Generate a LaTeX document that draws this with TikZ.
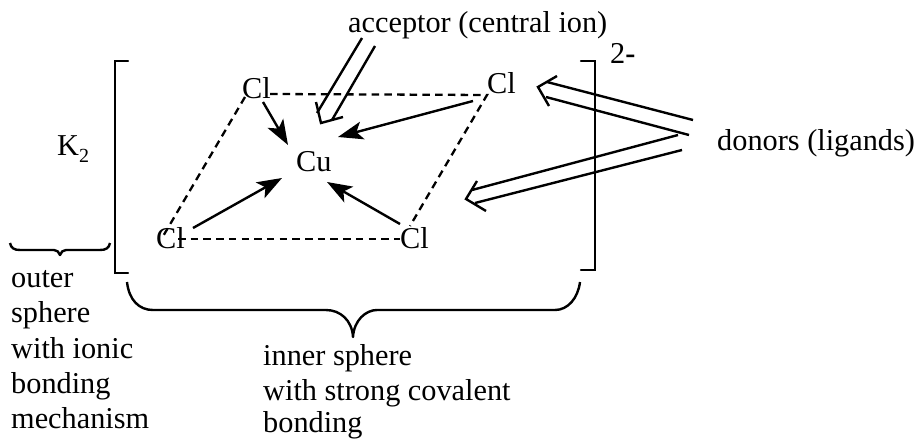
\documentclass[tikz,border=0pt]{standalone}
\usepackage{fontspec}
\setmainfont{Liberation Serif}
\usetikzlibrary{arrows.meta}
\tikzset{
  x=1pt,y=-1pt,
  lbl/.style={inner sep=0pt,anchor=base west,font=\fontsize{30.3}{30.3}\selectfont},
  bracketline/.style={line width=2.2pt,line cap=round,line join=miter},
  bondarrow/.style={line width=2.4pt,-{Stealth[length=25pt,width=18pt,inset=6pt]}},
  dash bond/.style={line width=2.3pt,dash pattern=on 7.5pt off 5.2pt},
  hollow/.style={line width=2.4pt},
  brace/.style={line width=2.4pt,line join=round}
}
\begin{document}
\begin{tikzpicture}
\useasboundingbox (0,0) rectangle (917,439);
\node[lbl] (acc) at (348,32) {acceptor (central ion)};
\node[lbl] (don) at (717,150) {donors (ligands)};
\node[lbl] (k) at (57,155) {K\raisebox{-7pt}{\fontsize{20}{20}\selectfont 2}};
\node[lbl] (chg) at (610,63) {2\textbf{-}};
\node[lbl] (cu) at (296,171) {Cu};
\node[lbl] (cla) at (242,98) {Cl};
\node[lbl] (clb) at (487,93) {Cl};
\node[lbl] (clc) at (156,248) {Cl};
\node[lbl] (cld) at (400,248) {Cl};
\node[lbl] (o1) at (11,287) {outer};
\node[lbl] (o2) at (11,322) {sphere};
\node[lbl] (o3) at (11,358) {with ionic};
\node[lbl] (o4) at (11,393) {bonding};
\node[lbl] (o5) at (11,428) {mechanism};
\node[lbl] (i1) at (263,365) {inner sphere};
\node[lbl] (i2) at (263,400) {with strong covalent};
\node[lbl] (i3) at (263,432) {bonding};
\coordinate (d1) at (270,94); \coordinate (d2) at (487,95);
\coordinate (d3) at (410,226); \coordinate (d4) at (178,239);
\coordinate (d5) at (400,239); \coordinate (d6) at (245,97);
\coordinate (d7) at (162,238);
\draw[dash bond] (d1) -- (d2) -- (d3);
\draw[dash bond] (d4) -- (d5);
\draw[dash bond] (d6) -- (d7);
\coordinate (cua) at (288,145); \coordinate (cub) at (338,137);
\coordinate (cuc) at (282,178); \coordinate (cud) at (327,182);
\coordinate (sa) at (263,102); \coordinate (sb) at (473,101);
\coordinate (sc) at (193,228); \coordinate (sd) at (400,224);
\draw[bondarrow] (sa) -- (cua);
\draw[bondarrow] (sb) -- (cub);
\draw[bondarrow] (sc) -- (cuc);
\draw[bondarrow] (sd) -- (cud);
\draw[bracketline] (128,61) -- (115,61) -- (115,273) -- (128,273);
\draw[bracketline] (581,61) -- (595,61) -- (595,270) -- (581,270);
% hollow arrows
\draw[hollow] (362,38) -- (317,113) (375,46) -- (332,120);
\draw[hollow] (316,102) -- (321,123) -- (343,117);
\draw[hollow] (693,120) -- (547,82) (689,135) -- (546,97);
\draw[hollow] (557,76) -- (538,87) -- (549,106);
\draw[hollow] (678,135) -- (472,190) (682,150) -- (475,203);
\draw[hollow] (477,181) -- (466,199) -- (486,211);
% braces
\draw[brace] (10,243) .. controls (11,248) and (14,250) .. (20,250) -- (54,250)
  .. controls (57,250) and (59,252) .. (60,255) .. controls (61,252) and (63,250) .. (66,250)
  -- (100,250) .. controls (106,250) and (109,248) .. (110,243);
\draw[brace] (127,282) .. controls (129,300) and (139,310) .. (153,310) -- (326,310)
  .. controls (340,310) and (352,320) .. (353,337) .. controls (354,320) and (366,310) .. (377,310)
  -- (555,310) .. controls (568,310) and (578,298) .. (580,282);
\end{tikzpicture}
\end{document}
